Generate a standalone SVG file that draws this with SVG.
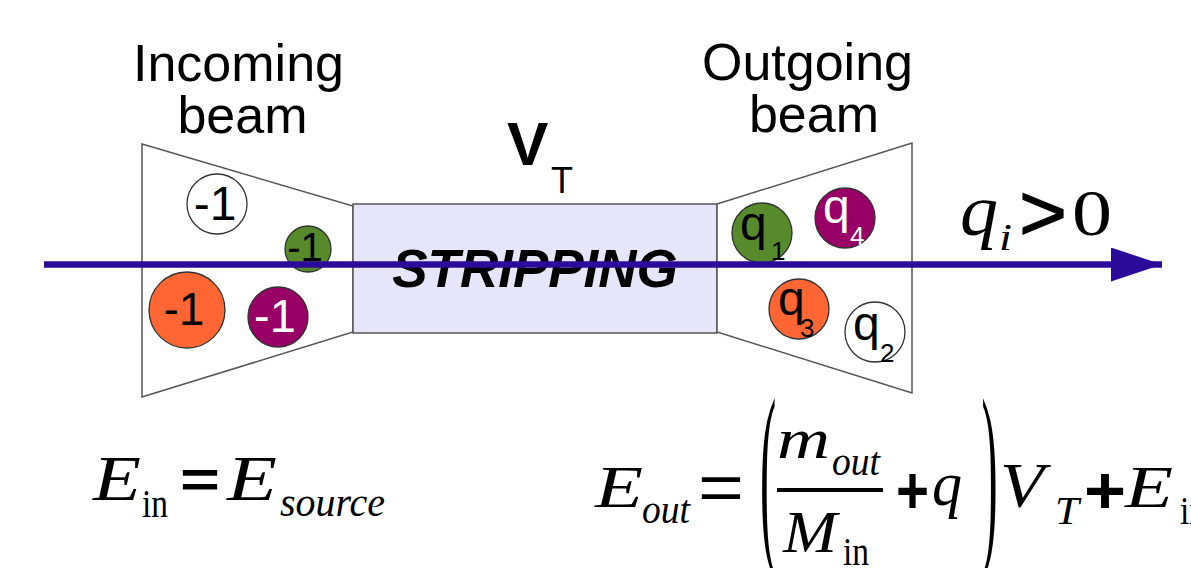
<svg xmlns="http://www.w3.org/2000/svg" width="1191" height="568" viewBox="0 0 1191 568">
<defs>
<style>
.lbl{font-family:"Liberation Sans",Arial,sans-serif;fill:#000}
.ser{font-family:"Liberation Serif","Times New Roman",serif;fill:#000}
.it{font-style:italic}
.shape{stroke:#555;stroke-width:1.5}
.ball{stroke:#333;stroke-width:1.3}
</style>
<marker id="ah" markerUnits="userSpaceOnUse" markerWidth="52" markerHeight="34" refX="51" refY="17" orient="auto">
<path d="M0,0 L51,17 L0,34 Z" fill="#2c0a9a"/>
</marker>
</defs>
<rect width="1191" height="568" fill="#fff"/>

<g id="incoming">
<polygon class="shape" points="142,144 353,206 353,332 142,397" fill="#fff"/>
<circle class="ball" cx="217" cy="204" r="30" fill="#fff"/>
<text class="lbl" x="215" y="220" font-size="48" text-anchor="middle">-1</text>
<circle class="ball" cx="308" cy="249" r="23" fill="#578a2a"/>
<text class="lbl" x="305" y="261" font-size="40" text-anchor="middle">-1</text>
<circle class="ball" cx="187" cy="310" r="38" fill="#ff6633"/>
<text class="lbl" x="184" y="325" font-size="46" text-anchor="middle">-1</text>
<circle class="ball" cx="278" cy="317" r="30" fill="#990066"/>
<text class="lbl" x="275" y="332" font-size="47" text-anchor="middle" style="fill:#fff">-1</text>
</g>

<g id="stripping">
<rect class="shape" x="353" y="204" width="364" height="129" fill="#e6e6fa"/>
<text class="lbl" x="535" y="287" font-size="53" font-weight="bold" font-style="italic" text-anchor="middle">STRIPPING</text>
</g>

<g id="outgoing">
<polygon class="shape" points="717,204 912,143 912,393 717,332" fill="#fff"/>
<circle class="ball" cx="762" cy="233" r="30" fill="#578a2a"/>
<text class="lbl" x="740" y="240" font-size="48">q</text>
<text class="lbl" x="771" y="260" font-size="26">1</text>
<circle class="ball" cx="845" cy="218" r="30" fill="#990066"/>
<text class="lbl" x="823" y="223" font-size="48" style="fill:#fff">q</text>
<text class="lbl" x="850" y="245" font-size="26" style="fill:#fff">4</text>
<circle class="ball" cx="799" cy="309" r="30" fill="#ff6633"/>
<text class="lbl" x="778" y="315" font-size="48">q</text>
<text class="lbl" x="800" y="337" font-size="26">3</text>
<circle class="ball" cx="875" cy="332" r="30" fill="#fff"/>
<text class="lbl" x="853" y="340" font-size="48">q</text>
<text class="lbl" x="880" y="362" font-size="26">2</text>
</g>

<g id="titles">
<text class="lbl" x="238.5" y="81" font-size="52" text-anchor="middle">Incoming</text>
<text class="lbl" x="242.5" y="133" font-size="52" text-anchor="middle">beam</text>
<text class="lbl" x="807.5" y="80" font-size="52" text-anchor="middle">Outgoing</text>
<text class="lbl" x="814" y="132" font-size="52" text-anchor="middle">beam</text>
<text class="lbl" x="507" y="165" font-size="62" font-weight="bold">V</text>
<text class="lbl" x="551" y="193" font-size="36">T</text>
</g>

<g id="connectors">
<line x1="44" y1="264.5" x2="1162" y2="264.5" stroke="#2c0a9a" stroke-width="6.5" marker-end="url(#ah)"/>
</g>

<g id="charge-label">
<text class="ser it" x="960" y="235" font-size="72" textLength="38" lengthAdjust="spacingAndGlyphs">q</text>
<text class="ser it" x="999" y="250" font-size="38" textLength="13" lengthAdjust="spacingAndGlyphs">i</text>
<text class="lbl" x="1019" y="240" font-size="80" textLength="48" lengthAdjust="spacingAndGlyphs" stroke="#000" stroke-width="1.2">&gt;</text>
<text class="ser" x="1072" y="235" font-size="66" textLength="40" lengthAdjust="spacingAndGlyphs">0</text>
</g>

<g id="eq-in">
<text class="ser it" x="93" y="500" font-size="63" textLength="48" lengthAdjust="spacingAndGlyphs">E</text>
<text class="ser" x="142" y="517" font-size="40" textLength="26" lengthAdjust="spacingAndGlyphs">in</text>
<text class="lbl" x="180" y="497" font-size="52" font-weight="bold" textLength="40" lengthAdjust="spacingAndGlyphs">=</text>
<text class="ser it" x="227" y="500" font-size="63" textLength="50" lengthAdjust="spacingAndGlyphs">E</text>
<text class="ser it" x="280" y="516" font-size="42" textLength="105" lengthAdjust="spacingAndGlyphs">source</text>
</g>

<g id="eq-out">
<text class="ser it" x="595" y="507" font-size="60" textLength="48" lengthAdjust="spacingAndGlyphs">E</text>
<text class="ser it" x="642" y="523" font-size="40" textLength="48" lengthAdjust="spacingAndGlyphs">out</text>
<text class="lbl" x="698" y="510" font-size="66" textLength="46" lengthAdjust="spacingAndGlyphs">=</text>
<text class="ser" transform="translate(760,538) scale(0.24,1)" font-size="202">(</text>
<text class="ser it" x="777" y="458" font-size="56" textLength="53" lengthAdjust="spacingAndGlyphs">m</text>
<text class="ser it" x="832" y="475" font-size="40" textLength="48" lengthAdjust="spacingAndGlyphs">out</text>
<rect x="777" y="488" width="106" height="4" fill="#000"/>
<text class="ser it" x="783" y="552" font-size="59" textLength="54" lengthAdjust="spacingAndGlyphs">M</text>
<text class="ser" x="843" y="565" font-size="40" textLength="26" lengthAdjust="spacingAndGlyphs">in</text>
<text class="lbl" x="896" y="513" font-size="66" font-weight="bold" textLength="33" lengthAdjust="spacingAndGlyphs">+</text>
<text class="ser it" x="932" y="505" font-size="64" textLength="30" lengthAdjust="spacingAndGlyphs">q</text>
<text class="ser" transform="translate(981.5,538) scale(0.24,1)" font-size="202">)</text>
<text class="ser it" x="1000" y="507" font-size="64" textLength="44" lengthAdjust="spacingAndGlyphs">V</text>
<text class="ser it" x="1055" y="524" font-size="40" textLength="24" lengthAdjust="spacingAndGlyphs">T</text>
<text class="lbl" x="1084" y="513" font-size="66" font-weight="bold" textLength="42" lengthAdjust="spacingAndGlyphs">+</text>
<text class="ser it" x="1125" y="507" font-size="60" textLength="48" lengthAdjust="spacingAndGlyphs">E</text>
<text class="ser" x="1180" y="524" font-size="40" textLength="26" lengthAdjust="spacingAndGlyphs">in</text>
</g>
</svg>
